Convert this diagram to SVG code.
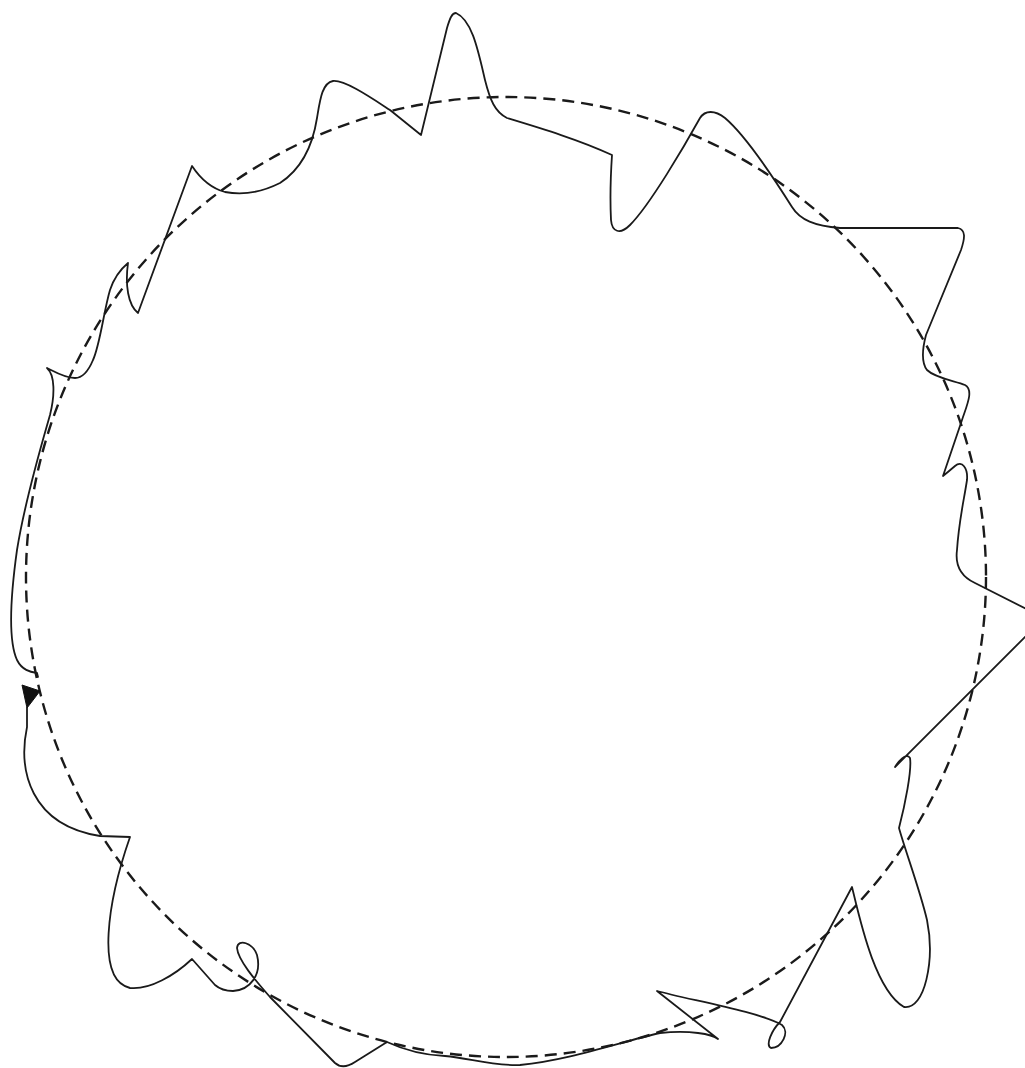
<svg xmlns="http://www.w3.org/2000/svg" width="1025" height="1068" viewBox="0 0 1025 1068">
<style>
.orbit{fill:none;stroke:#1a1a1a;stroke-width:2.4;stroke-dasharray:12 7}
.wobble{fill:none;stroke:#1a1a1a;stroke-width:1.8;stroke-linejoin:round;stroke-linecap:round}
.head{fill:#111;stroke:#111;stroke-width:1}
</style>
<rect width="1025" height="1068" fill="#fff"/>
<g id="orbit">
<circle class="orbit" cx="506" cy="577" r="480"/>
</g>
<g id="wobble-path">
<path class="wobble" d="M27,708 L27,727 C18,770 30,825 100,836 L130,837 C108,900 95,980 130,988 C150,990 175,975 192,959 L215,985 Q222,991 233,991 C250,990 262,975 257,955 C253,943 238,938 237,948 C238,960 255,980 270,997 L335,1063 Q343,1070 355,1062 L387,1042 C400,1048 420,1055 445,1056 C470,1058 490,1066 520,1065 C570,1060 620,1042 660,1033 C690,1030 712,1034 718,1039 L657,991 C690,1000 760,1012 782,1025 C790,1032 782,1048 771,1048 C765,1045 772,1030 780,1022 L852,887 C860,920 875,990 904,1007 C925,1010 935,960 927,920 C920,890 905,850 899,828 C905,805 912,770 910,758 C906,752 898,762 895,767 L1044,618 L975,583 C960,576 955,565 957,550 C959,520 964,500 967,480 C968,468 962,460 955,466 Q948,472 943,476 L962,420 C967,405 974,390 965,385 C955,381 935,378 927,370 C921,362 922,350 926,335 L961,250 C965,238 966,230 958,228 C953,228 950,228 945,228 L840,228 C815,226 800,220 792,207 C775,180 745,135 725,118 C715,110 705,110 700,118 C685,145 650,205 630,225 C620,235 612,232 611,220 C610,200 611,170 612,155 C580,140 540,128 507,118 C495,112 490,100 485,80 C478,50 472,20 456,13 C452,13 450,18 447,28 L421,135 L390,110 C370,97 345,80 333,81 C322,83 320,100 317,118 C312,150 300,170 280,183 C260,193 240,195 225,192 C210,188 200,178 192,166 L138,313 C128,305 125,285 128,263 C122,268 114,278 110,290 C104,310 100,345 93,360 C88,372 82,378 75,378 C65,378 55,372 47,368 C55,375 55,395 50,415 C40,450 25,500 17,550 C10,600 8,640 17,660 C22,670 30,672 37,673 L38,677"/>
</g>
<g id="arrowhead">
<polygon class="head" points="22,685 40,691 27,708"/>
</g>
</svg>
